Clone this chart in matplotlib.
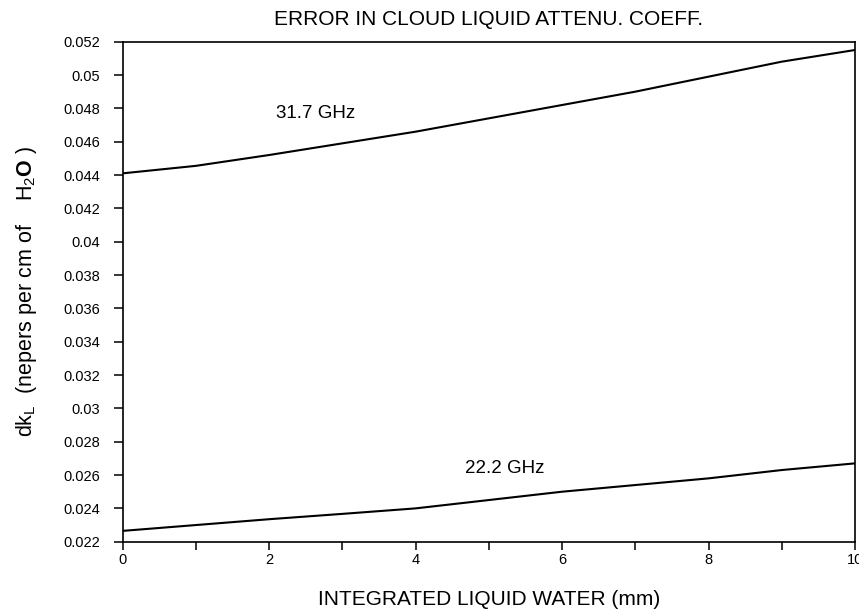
import matplotlib
matplotlib.use("Agg")
import matplotlib.pyplot as plt
from matplotlib.ticker import FixedLocator

plt.rcParams["font.family"] = ["Liberation Sans", "DejaVu Sans"]
plt.rcParams["mathtext.fontset"] = "custom"
plt.rcParams["mathtext.rm"] = "Liberation Sans"
plt.rcParams["mathtext.bf"] = "Liberation Sans:bold"

# Integrated liquid water (mm)
liquid_water = [0, 1, 2, 3, 4, 5, 6, 7, 8, 9, 10]
# Error in cloud liquid attenuation coefficient (nepers per cm of H2O)
err_31_7 = [0.0441, 0.04455, 0.0452, 0.0459, 0.0466, 0.0474, 0.0482, 0.0490, 0.0499, 0.0508, 0.0515]
err_22_2 = [0.02265, 0.0230, 0.02335, 0.02367, 0.0240, 0.0245, 0.0250, 0.0254, 0.0258, 0.0263, 0.0267]

y_ticks = [0.022, 0.024, 0.026, 0.028, 0.03, 0.032, 0.034, 0.036, 0.038, 0.04,
           0.042, 0.044, 0.046, 0.048, 0.05, 0.052]
y_tick_labels = ["0.022", "0.024", "0.026", "0.028", "0.03", "0.032", "0.034", "0.036",
                 "0.038", "0.04", "0.042", "0.044", "0.046", "0.048", "0.05", "0.052"]
x_ticks = [0, 2, 4, 6, 8, 10]
x_tick_labels = ["0", "2", "4", "6", "8", "10"]

fig = plt.figure(figsize=(8.59, 6.11), dpi=100)
ax = fig.add_axes([0.1428, 0.1134, 0.9953 - 0.1428, 0.9318 - 0.1134])

ax.plot(liquid_water, err_31_7, color="black", lw=1.5)
ax.plot(liquid_water, err_22_2, color="black", lw=1.5)

ax.text(2.63, 0.04772, "31.7 GHz", fontsize=13.5, ha="center", va="center")
ax.text(5.21, 0.02642, "22.2 GHz", fontsize=13.5, ha="center", va="center")

ax.set_xlim(0, 10)
ax.set_ylim(0.022, 0.052)
ax.set_xticks(x_ticks)
ax.set_xticklabels(x_tick_labels)
ax.xaxis.set_minor_locator(FixedLocator([1, 3, 5, 7, 9]))
ax.set_yticks(y_ticks)
ax.set_yticklabels(y_tick_labels)

ax.tick_params(axis="y", which="major", direction="out", length=6.5, width=1.1,
               pad=10, labelsize=10.5)
ax.tick_params(axis="x", which="both", direction="out", length=5.5, width=1.1,
               pad=2.5, labelsize=10.5)

for s in ax.spines.values():
    s.set_linewidth(1.2)

ax.set_title("ERROR IN CLOUD LIQUID ATTENU. COEFF.", fontsize=15, pad=12)
ax.set_xlabel("INTEGRATED LIQUID WATER (mm)", fontsize=15, labelpad=17)
ax.set_ylabel(r"dk$_\mathregular{L}$  (nepers per cm of    H$_\mathregular{2}$$\mathbf{O}$ )",
              fontsize=15.5, labelpad=17)

fig.savefig("out.png", dpi=100)
